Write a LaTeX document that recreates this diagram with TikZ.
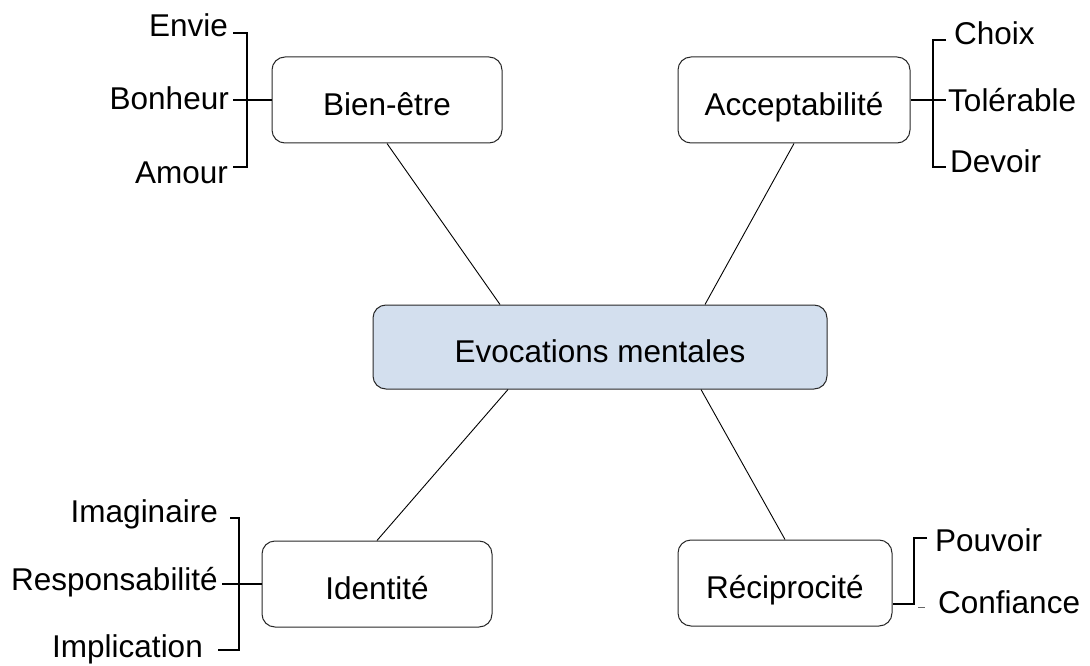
\documentclass[tikz,border=0pt]{standalone}
\usepackage{fontspec}
\setmainfont{Liberation Sans}
\usetikzlibrary{positioning,calc}
\definecolor{evblue}{RGB}{211,223,238}
\definecolor{boxgray}{RGB}{40,40,40}

\begin{document}
\begin{tikzpicture}[x=1pt,y=-1pt,
    box node/.style={draw=boxgray,line width=1pt,rounded corners=13pt,minimum height=86pt,
                     inner sep=0pt,text height=31pt,text depth=0pt,font=\fontsize{31.5}{36}\selectfont},
    main node/.style={box node,fill=evblue,minimum width=454pt,minimum height=84pt},
    word/.style={inner sep=0pt,font=\fontsize{31.5}{36}\selectfont},
    link/.style={line width=0.9pt},
    brace/.style={line width=1.9pt}
  ]
  \useasboundingbox (0,0) rectangle (1090,666);

  % boxes
  \node[main node] (ev) at (600,347) {Evocations mentales};
  \node[box node,minimum width=230pt] (bien) at (387,100) {Bien-être};
  \node[box node,minimum width=232pt] (accept) at (794,100) {Acceptabilité};
  \node[box node,minimum width=230pt] (ident) at (377,584) {Identité};
  \node[box node,minimum width=214pt] (recip) at (785,583) {Réciprocité};

  % words
  \node[word,anchor=base east] (envie) at (228,37) {Envie};
  \node[word,anchor=base east] (bonheur) at (229,110) {Bonheur};
  \node[word,anchor=base east] (amour) at (228,183) {Amour};
  \node[word,anchor=base west] (choix) at (954,45) {Choix};
  \node[word,anchor=base west] (tolerable) at (948,112) {Tolérable};
  \node[word,anchor=base west] (devoir) at (950,173) {Devoir};
  \node[word,anchor=base east] (imagin) at (218,522) {Imaginaire};
  \node[word,anchor=base east] (respons) at (218,590) {Responsabilité};
  \node[word,anchor=base east] (implic) at (203,657) {Implication};
  \node[word,anchor=base west] (pouvoir) at (935,551) {Pouvoir};
  \node[word,anchor=base west] (confiance) at (938,613) {Confiance};

  % links to the centre
  \draw[link] (bien.south) -- ([xshift=-100pt]ev.north);
  \draw[link] (accept.south) -- ([xshift=105pt]ev.north);
  \draw[link] (ident.north) -- ([xshift=-92pt]ev.south);
  \draw[link] (recip.north) -- ([xshift=101pt]ev.south);

  % brackets
  \coordinate (envie end) at (233,33);
  \coordinate (amour end) at (233,167);
  \draw[brace] (envie end) -| (247,100) |- (amour end);
  \draw[brace] (bien.west) -- ([xshift=4pt]bonheur.east |- bien.west);

  \coordinate (choix end) at (946,40);
  \coordinate (devoir end) at (946,167);
  \draw[brace] (choix end) -| (933,100) |- (devoir end);
  \draw[brace] (accept.east) -- (choix end |- accept.east);

  \coordinate (imagin end) at (230,518);
  \coordinate (implic end) at (218,650);
  \draw[brace] (imagin end) -| (239,584) |- (implic end);
  \draw[brace] (ident.west) -- ([xshift=4pt]respons.east |- ident.west);

  \coordinate (pouvoir end) at (927,538);
  \coordinate (confiance end) at (914,604);
  \draw[brace] (pouvoir end) -| (confiance end) -- (recip.east |- confiance end);
  \draw[line width=1pt,black!60] (918,607) -- (925,607);

\end{tikzpicture}
\end{document}
